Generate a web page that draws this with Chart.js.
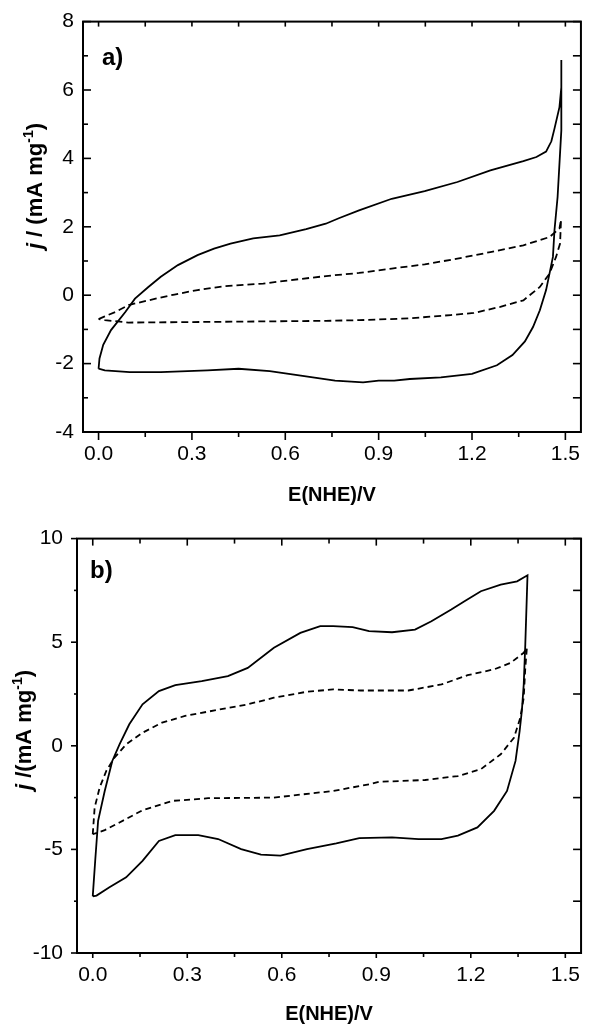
<!DOCTYPE html>
<html>
<head>
<meta charset="utf-8">
<script src="https://cdn.jsdelivr.net/npm/chart.js@4/dist/chart.umd.min.js"></script>
<style>
  html, body { margin: 0; padding: 0; background: #fff; }
  #wrap { position: relative; width: 590px; height: 1025px; }
  canvas { position: absolute; left: 0; }
  #ca { top: 0; }
  #cb { top: 512px; }
</style>
</head>
<body>
<div id="wrap">
  <canvas id="ca" width="590" height="512"></canvas>
  <canvas id="cb" width="590" height="513"></canvas>
</div>
<script>
// ---------- Data ----------
// Panel a) solid CV loop
const aSolidE = [0.000, 0.003, 0.015, 0.040, 0.086, 0.117, 0.160, 0.200, 0.255, 0.318, 0.371, 0.424, 0.497, 0.582, 0.667, 0.730, 0.772, 0.837, 0.942, 1.048, 1.153, 1.259, 1.365, 1.407, 1.438, 1.455, 1.465, 1.481, 1.487, 1.488, 1.486, 1.475, 1.465, 1.460, 1.449, 1.438, 1.418, 1.396, 1.370, 1.330, 1.280, 1.200, 1.100, 1.000, 0.950, 0.900, 0.850, 0.760, 0.650, 0.550, 0.450, 0.350, 0.200, 0.100, 0.020, 0.000];
const aSolidJ = [-2.15, -1.85, -1.45, -1.02, -0.49, -0.10, 0.24, 0.54, 0.88, 1.17, 1.36, 1.51, 1.66, 1.75, 1.93, 2.09, 2.25, 2.48, 2.82, 3.04, 3.31, 3.65, 3.92, 4.04, 4.20, 4.50, 4.87, 5.50, 6.08, 6.88, 4.82, 2.87, 1.90, 1.12, 0.63, 0.15, -0.44, -0.93, -1.35, -1.75, -2.05, -2.30, -2.40, -2.45, -2.50, -2.50, -2.55, -2.50, -2.35, -2.22, -2.15, -2.20, -2.25, -2.25, -2.20, -2.15];
// Panel a) dashed CV loop
const aDashE = [0.000, 0.020, 0.054, 0.096, 0.160, 0.244, 0.318, 0.402, 0.529, 0.645, 0.731, 0.837, 0.942, 1.048, 1.153, 1.259, 1.365, 1.449, 1.481, 1.486, 1.483, 1.470, 1.449, 1.418, 1.365, 1.291, 1.206, 1.132, 0.995, 0.837, 0.731, 0.371, 0.096, 0.054, 0.020, 0.000];
const aDashJ = [-0.70, -0.62, -0.49, -0.29, -0.15, 0.02, 0.15, 0.26, 0.34, 0.47, 0.56, 0.65, 0.78, 0.90, 1.07, 1.26, 1.46, 1.70, 1.95, 2.21, 1.51, 1.12, 0.63, 0.24, -0.15, -0.34, -0.52, -0.58, -0.68, -0.73, -0.75, -0.78, -0.80, -0.76, -0.73, -0.70];
// Panel b) solid CV loop
const bSolidE = [0.000, 0.008, 0.017, 0.038, 0.062, 0.085, 0.116, 0.158, 0.210, 0.262, 0.346, 0.429, 0.492, 0.575, 0.659, 0.722, 0.763, 0.825, 0.877, 0.950, 1.023, 1.075, 1.138, 1.180, 1.232, 1.295, 1.347, 1.380, 1.373, 1.368, 1.362, 1.355, 1.342, 1.315, 1.274, 1.221, 1.159, 1.107, 1.034, 0.950, 0.846, 0.773, 0.680, 0.596, 0.534, 0.471, 0.398, 0.335, 0.262, 0.210, 0.158, 0.106, 0.053, 0.012, 0.000];
const bSolidJ = [-7.27, -5.50, -3.62, -2.18, -0.73, 0.07, 1.04, 2.00, 2.64, 2.93, 3.12, 3.36, 3.76, 4.73, 5.45, 5.78, 5.78, 5.73, 5.53, 5.48, 5.61, 6.01, 6.58, 6.98, 7.46, 7.78, 7.94, 8.23, 4.90, 2.96, 1.68, 0.71, -0.73, -2.18, -3.14, -3.94, -4.33, -4.50, -4.50, -4.42, -4.46, -4.71, -4.99, -5.30, -5.25, -4.99, -4.50, -4.31, -4.31, -4.59, -5.55, -6.35, -6.83, -7.23, -7.27];
// Panel b) dashed CV loop
const bDashE = [0.000, 0.006, 0.022, 0.043, 0.069, 0.106, 0.158, 0.220, 0.293, 0.387, 0.492, 0.575, 0.680, 0.763, 0.850, 1.002, 1.107, 1.190, 1.274, 1.326, 1.368, 1.378, 1.373, 1.368, 1.357, 1.337, 1.295, 1.232, 1.159, 1.055, 0.908, 0.877, 0.763, 0.575, 0.366, 0.252, 0.158, 0.085, 0.038, 0.000];
const bDashJ = [-4.27, -2.98, -2.01, -1.21, -0.57, 0.07, 0.63, 1.12, 1.44, 1.71, 2.00, 2.32, 2.61, 2.72, 2.67, 2.67, 2.96, 3.41, 3.69, 4.00, 4.49, 4.73, 3.76, 2.32, 1.35, 0.39, -0.41, -1.13, -1.46, -1.65, -1.74, -1.86, -2.18, -2.50, -2.53, -2.66, -3.11, -3.70, -4.07, -4.27];

// Ticks
const xTicks = [0.0, 0.3, 0.6, 0.9, 1.2, 1.5];
const xMinor = [0.15, 0.45, 0.75, 1.05, 1.35];
const aYTicks = [-4, -2, 0, 2, 4, 6, 8];
const aYMinor = [-3, -1, 1, 3, 5, 7];
const bYTicks = [-10, -5, 0, 5, 10];
const bYMinor = [-7.5, -2.5, 2.5, 7.5];

// Text
const xTitle = 'E(NHE)/V';
const aLetter = 'a)';
const bLetter = 'b)';

// ---------- Helpers ----------
const FAM = "'Liberation Sans', Arial, Helvetica, sans-serif";
Chart.defaults.font.family = FAM;
Chart.defaults.font.size = 21;
Chart.defaults.color = '#000';

const pts = (xs, ys) => xs.map((v, i) => ({ x: v, y: ys[i] }));

const frameTicks = {
  id: 'frameTicks',
  afterDraw(chart, args, o) {
    const { ctx, chartArea: a } = chart;
    const x = chart.scales.x, y = chart.scales.y;
    ctx.save();
    ctx.strokeStyle = '#000';
    ctx.lineCap = 'butt';
    const seg = (x1, y1, x2, y2) => { ctx.beginPath(); ctx.moveTo(x1, y1); ctx.lineTo(x2, y2); ctx.stroke(); };
    ctx.lineWidth = 1.6;
    o.xMajor.forEach(v => { const p = x.getPixelForValue(v); seg(p, a.bottom, p, a.bottom + o.bMaj); seg(p, a.top, p, a.top + o.tMaj); });
    o.xMinor.forEach(v => { const p = x.getPixelForValue(v); seg(p, a.bottom, p, a.bottom + o.bMin); seg(p, a.top, p, a.top + o.tMin); });
    o.yMajor.forEach(v => { const p = y.getPixelForValue(v); seg(a.left, p, a.left + o.lMaj, p); seg(a.right, p, a.right + o.rMaj, p); });
    o.yMinor.forEach(v => { const p = y.getPixelForValue(v); seg(a.left, p, a.left + o.lMin, p); seg(a.right, p, a.right + o.rMin, p); });
    ctx.lineWidth = 2;
    ctx.strokeRect(a.left, a.top, a.right - a.left, a.bottom - a.top);

    // x title
    ctx.fillStyle = '#000';
    ctx.textBaseline = 'alphabetic';
    ctx.textAlign = 'center';
    ctx.font = 'bold 20px ' + FAM;
    ctx.fillText(o.xTitle, (a.left + a.right) / 2, o.xTitleY);

    // panel letter
    ctx.textAlign = 'left';
    ctx.font = 'bold 24px ' + FAM;
    ctx.fillText(o.letter, o.letterX, o.letterY);

    // y title (rotated, reading upward) with italic j and superscript -1;
    // its upper end is anchored at o.yTitleTop
    const parts = o.yParts;
    let total = 0;
    parts.forEach(p => { ctx.font = p.font; p.w = ctx.measureText(p.t).width; total += p.w; });
    ctx.translate(o.yTitleX, o.yTitleTop + total);
    ctx.rotate(-Math.PI / 2);
    ctx.textAlign = 'left';
    ctx.textBaseline = 'alphabetic';
    let cx = 0;
    parts.forEach(p => { ctx.font = p.font; ctx.fillText(p.t, cx, 8 + (p.dy || 0)); cx += p.w; });
    ctx.restore();
  }
};

function makeChart(id, solidE, solidJ, dashE, dashJ, yMin, yMax, yTicks, yMinor, cfg) {
  return new Chart(document.getElementById(id), {
    type: 'scatter',
    data: {
      datasets: [
        { data: pts(solidE, solidJ), showLine: true, borderColor: '#000', borderWidth: 1.8, pointRadius: 0, tension: 0, fill: false },
        { data: pts(dashE, dashJ), showLine: true, borderColor: '#000', borderWidth: 1.8, borderDash: cfg.dash, pointRadius: 0, tension: 0, fill: false }
      ]
    },
    options: {
      responsive: false,
      animation: false,
      devicePixelRatio: 1,
      events: [],
      layout: { padding: cfg.padding },
      plugins: {
        legend: { display: false },
        tooltip: { enabled: false },
        frameTicks: Object.assign({
          xMajor: xTicks, xMinor: xMinor, yMajor: yTicks, yMinor: yMinor, xTitle: xTitle
        }, cfg.frame)
      },
      scales: {
        x: {
          type: 'linear', min: -0.05, max: 1.55,
          grid: { display: false, drawTicks: false },
          border: { display: false },
          afterBuildTicks: s => { s.ticks = xTicks.map(v => ({ value: v })); },
          afterFit: s => { s.height = cfg.xH; },
          ticks: { padding: cfg.xPad, maxRotation: 0, autoSkip: false, callback: v => v.toFixed(1), font: { size: 21 } }
        },
        y: {
          type: 'linear', min: yMin, max: yMax,
          grid: { display: false, drawTicks: false },
          border: { display: false },
          afterBuildTicks: s => { s.ticks = yTicks.map(v => ({ value: v })); },
          afterFit: s => { s.width = cfg.yW; },
          ticks: { padding: cfg.yPad, autoSkip: false, callback: v => String(v), font: { size: 21 } }
        }
      }
    },
    plugins: [frameTicks]
  });
}

makeChart('ca', aSolidE, aSolidJ, aDashE, aDashJ, -4, 8, aYTicks, aYMinor, {
  dash: [7, 4],
  padding: { top: 21, right: 1, left: 0, bottom: 0 },
  xH: 80, yW: 83, xPad: 10, yPad: 9,
  frame: {
    bMaj: 8, bMin: 5, tMaj: 5, tMin: 5,
    lMaj: 8, lMin: 5, rMaj: -8, rMin: -8,
    xTitleY: 501, letter: aLetter, letterX: 102, letterY: 65, yTitleX: 34, yTitleTop: 123,
    yParts: [
      { t: 'j', font: 'italic bold 22px ' + FAM },
      { t: ' / (mA mg', font: 'bold 22px ' + FAM },
      { t: '-1', font: 'bold 14px ' + FAM, dy: -9 },
      { t: ')', font: 'bold 22px ' + FAM }
    ]
  }
});

makeChart('cb', bSolidE, bSolidJ, bDashE, bDashJ, -10, 10, bYTicks, bYMinor, {
  dash: [6, 4],
  padding: { top: 25, right: 3, left: 0, bottom: 0 },
  xH: 72, yW: 77, xPad: 10, yPad: 14,
  frame: {
    bMaj: 5, bMin: 4, tMaj: 7, tMin: 5,
    lMaj: -6, lMin: -3, rMaj: -8, rMin: -8,
    xTitleY: 508, letter: bLetter, letterX: 90, letterY: 66, yTitleX: 23, yTitleTop: 158,
    yParts: [
      { t: 'j', font: 'italic bold 22px ' + FAM },
      { t: ' /(mA mg', font: 'bold 22px ' + FAM },
      { t: '-1', font: 'bold 14px ' + FAM, dy: -9 },
      { t: ')', font: 'bold 22px ' + FAM }
    ]
  }
});
</script>
</body>
</html>
